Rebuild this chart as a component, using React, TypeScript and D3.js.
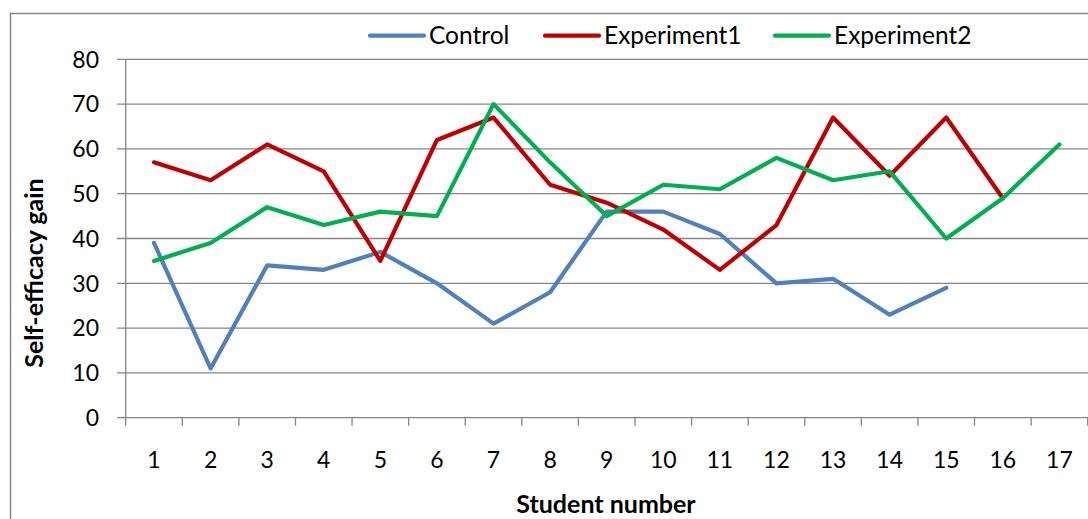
import React from "react";
import * as d3 from "d3";

const students = ["1","2","3","4","5","6","7","8","9","10","11","12","13","14","15","16","17"];
const control = [39, 11, 34, 33, 37, 30, 21, 28, 46, 46, 41, 30, 31, 23, 29];
const experiment1 = [57, 53, 61, 55, 35, 62, 67, 52, 48, 42, 33, 43, 67, 54, 67, 49];
const experiment2 = [35, 39, 47, 43, 46, 45, 70, 57, 45, 52, 51, 58, 53, 55, 40, 49, 61];
const yTicks = [0, 10, 20, 30, 40, 50, 60, 70, 80];
const seriesNames = ["Control", "Experiment1", "Experiment2"];
const seriesColors = ["#4F81BD", "#C00000", "#00B050"];

const W = 1088, H = 519;
const FONT = "Lato, 'Open Sans', sans-serif";

export default function App() {
  const x = d3.scaleBand<string>().domain(students).range([125.7, 1087.7]);
  const y = d3.scaleLinear().domain([0, 80]).range([417.7, 59.3]);
  const seriesData = [control, experiment1, experiment2];
  const line = d3.line<number>()
    .x((_, i) => (x(students[i]) as number) + x.bandwidth() / 2)
    .y((d) => y(d));
  const legendX = [370, 545, 775];
  const ticksX = students.map((s) => x(s) as number).concat([x.range()[1]]);

  return (
    <div style={{ position: "absolute", left: 0, top: 0 }}>
      <svg width={W} height={H} style={{ display: "block", background: "#fff" }}>
        <rect x={10.5} y={13.5} width={1200} height={600} fill="#fff" stroke="#868686" strokeWidth={1.5} />
        {yTicks.map((t) => (
          <g key={t}>
            <line x1={117} x2={W} y1={y(t)} y2={y(t)} stroke="#868686" strokeWidth={1.3} />
            <text x={99} y={y(t)} dy="0.36em" textAnchor="end" fontFamily={FONT} fontSize={23} fill="#000">{t}</text>
          </g>
        ))}
        <line x1={125.7} x2={125.7} y1={y(80)} y2={y(0)} stroke="#868686" strokeWidth={1.3} />
        {ticksX.map((tx, i) => (
          <line key={i} x1={tx} x2={tx} y1={y(0)} y2={y(0) + 8} stroke="#868686" strokeWidth={1.3} />
        ))}
        {students.map((s) => (
          <text key={s} x={(x(s) as number) + x.bandwidth() / 2} y={468} textAnchor="middle" fontFamily={FONT} fontSize={23} fill="#000">{s}</text>
        ))}
        {seriesData.map((d, i) => (
          <path key={i} d={line(d) as string} fill="none" stroke={seriesColors[i]} strokeWidth={4.2} strokeLinejoin="round" strokeLinecap="round" />
        ))}
        {seriesNames.map((n, i) => (
          <g key={n}>
            <line x1={legendX[i]} x2={legendX[i] + 54} y1={35.7} y2={35.7} stroke={seriesColors[i]} strokeWidth={4.2} strokeLinecap="round" />
            <text x={legendX[i] + 59} y={43.5} fontFamily={FONT} fontSize={24.5} fill="#000">{n}</text>
          </g>
        ))}
        <text x={606} y={513} textAnchor="middle" fontFamily={FONT} fontSize={25} fontWeight="bold" fill="#000">Student number</text>
        <text transform="translate(43,273) rotate(-90)" textAnchor="middle" fontFamily={FONT} fontSize={25} fontWeight="bold" fill="#000">Self-efficacy gain</text>
      </svg>
    </div>
  );
}
